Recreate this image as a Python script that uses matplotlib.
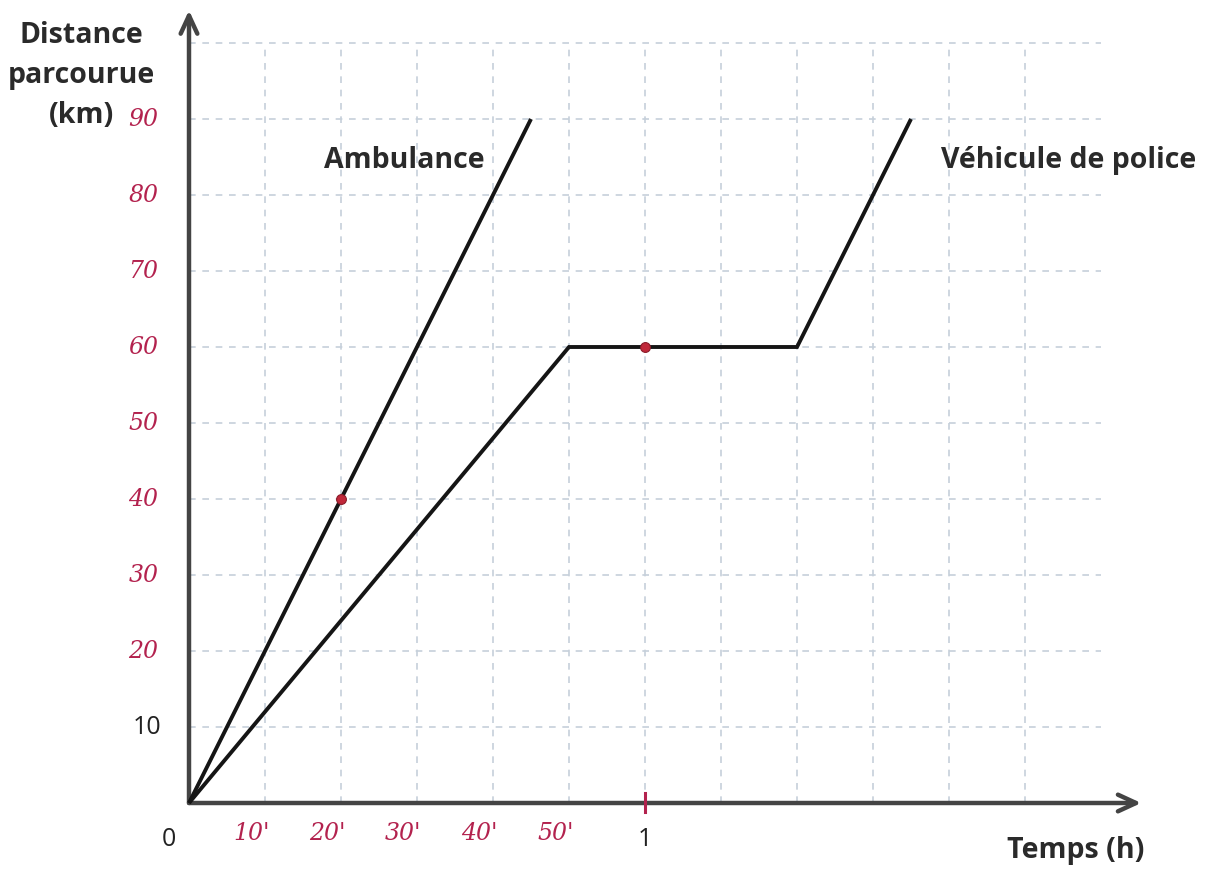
import matplotlib
matplotlib.use("Agg")
import matplotlib.pyplot as plt

# ---- data ----
amb_t = [0, 45]          # minutes
amb_d = [0, 90]          # km
pol_t = [0, 50, 80, 95]
pol_d = [0, 60, 60, 90]
marks_t = [20, 60]
marks_d = [40, 60]
y_ticks = [20, 30, 40, 50, 60, 70, 80, 90]
y_labels = ["20", "30", "40", "50", "60", "70", "80", "90"]
x_ticks = [10, 20, 30, 40, 50]
x_labels = ["10'", "20'", "30'", "40'", "50'"]
grid_x = [10, 20, 30, 40, 50, 60, 70, 80, 90, 100, 110]
grid_y = [10, 20, 30, 40, 50, 60, 70, 80, 90, 100]

W, H = 1216, 872
ox, oy, s = 189, 803, 7.6  # origin pixel and px per unit

fig = plt.figure(figsize=(W / 100, H / 100), dpi=100)
ax = fig.add_axes([0, 0, 1, 1])
ax.set_xlim(-ox / s, (W - ox) / s)
ax.set_ylim(-(H - oy) / s, oy / s)
ax.axis("off")

grid_col = "#c6d0da"
for gx in grid_x:
    ax.plot([gx, gx], [0, 100], ls=(0, (4, 4)), color=grid_col, lw=1.2, zorder=1)
for gy in grid_y:
    ax.plot([0, 120], [gy, gy], ls=(0, (4, 4)), color=grid_col, lw=1.2, zorder=1)

axis_col = "#444444"
ax.annotate("", xy=(125.3, 0), xytext=(0, 0),
            arrowprops=dict(arrowstyle="->,head_length=1.3,head_width=0.6",
                            color=axis_col, lw=3.2, shrinkA=0, shrinkB=0), zorder=3)
ax.annotate("", xy=(0, 104.3), xytext=(0, 0),
            arrowprops=dict(arrowstyle="->,head_length=1.3,head_width=0.6",
                            color=axis_col, lw=3.2, shrinkA=0, shrinkB=0), zorder=3)

ax.plot(amb_t, amb_d, color="#151515", lw=2.8, solid_capstyle="butt", zorder=4)
ax.plot(pol_t, pol_d, color="#151515", lw=2.8, solid_capstyle="butt",
        solid_joinstyle="miter", zorder=4)

red = "#b3224e"
ax.scatter(marks_t, marks_d, s=50, color="#c0283a", zorder=5, edgecolors="#8a1c2a", linewidths=0.8)
ax.plot([60, 60], [-1.2, 1.3], color=red, lw=2.2, zorder=5)

hand = dict(family="DejaVu Serif", style="italic", color=red, fontsize=17)
for v, lab in zip(y_ticks, y_labels):
    ax.text(-6.0, v, lab, ha="center", va="center", **hand)
for v, lab in zip(x_ticks, x_labels):
    ax.text(v - 1.8, -4.0, lab, ha="center", va="center", **hand)

reg = dict(family="Open Sans", color="#222222", fontsize=18)
ax.text(-5.5, 10, "10", ha="center", va="center", **reg)
ax.text(-2.6, -4.8, "0", ha="center", va="center", **reg)
ax.text(60, -4.8, "1", ha="center", va="center", **reg)

bold = dict(family="Open Sans", weight="bold", color="#2a2a2a", fontsize=20.5)
ax.text(-14.1, 101.0, "Distance", ha="center", va="center", **bold)
ax.text(-14.1, 95.7, "parcourue", ha="center", va="center", **bold)
ax.text(-14.1, 90.4, "(km)", ha="center", va="center", **bold)
ax.text(28.3, 84.5, "Ambulance", ha="center", va="center", **bold)
ax.text(115.8, 84.5, "Véhicule de police", ha="center", va="center", **bold)
ax.text(116.7, -6.2, "Temps (h)", ha="center", va="center", **bold)

fig.savefig("out.png", dpi=100, facecolor="white")
